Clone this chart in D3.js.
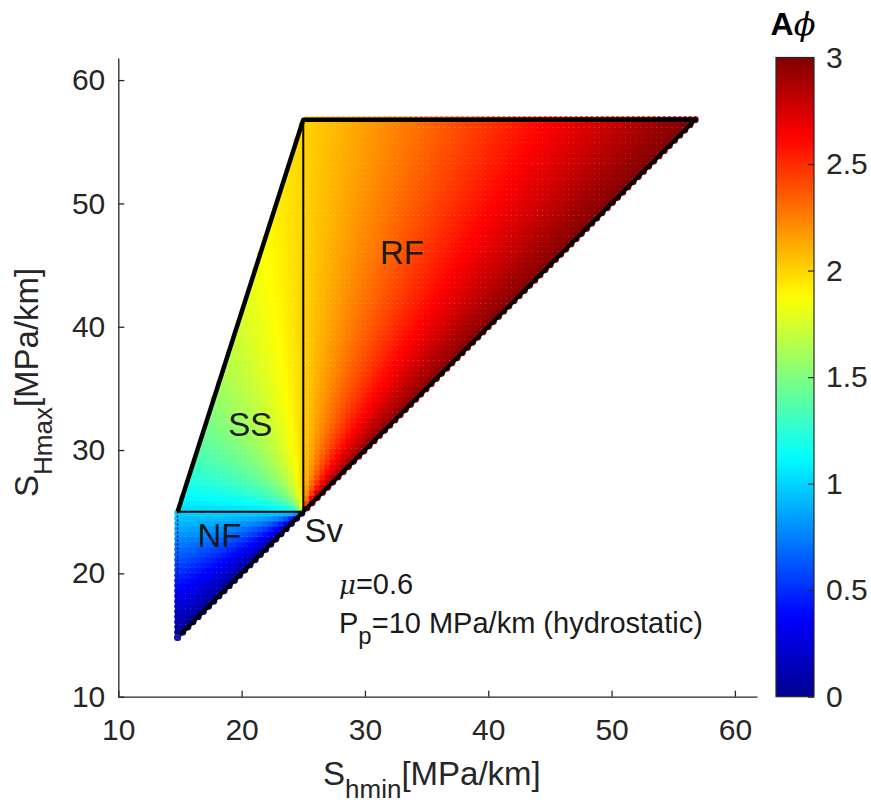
<!DOCTYPE html>
<html>
<head>
<meta charset="utf-8">
<script src="https://cdn.jsdelivr.net/npm/d3@7"></script>
<style>
  body { margin: 0; background: #fff; }
  svg { font-family: "Liberation Sans", Arial, sans-serif; }
</style>
</head>
<body>
<script>
// stress polygon inputs (MPa/km)
const SV = 25;
const PP = 10;
const MU = 0.6;
const REGIMES = ["NF", "SS", "RF"];
const REGIME_POS = [[18.2, 23.1], [20.7, 32.1], [33, 46]];
const AXIS_TICKS = [10, 20, 30, 40, 50, 60];
const CBAR_TICKS = [0, 0.5, 1, 1.5, 2, 2.5, 3];
const NOTES = ["0.6", "10 MPa/km (hydrostatic)"];

// frictional limit ratio
const K = Math.pow(Math.sqrt(MU * MU + 1) + MU, 2);
const SMIN = PP + (SV - PP) / K;
const SMAX = PP + K * (SV - PP);
const N = 100;
const step = (SMAX - SMIN) / N;

// A-phi for each stress state on the grid
const cells = [];
for (let i = 0; i <= N; i++) {
  const sh = SMIN + i * step;
  for (let j = i; j <= N; j++) {
    const sH = SMIN + j * step;
    if (sH - PP > K * (sh - PP) + 1e-9) continue;
    let a;
    if (sH <= SV) a = (sH - sh) / (SV - sh || 1);
    else if (sh >= SV) a = 2 + (sh - SV) / (sH - SV || 1);
    else a = 2 - (SV - sh) / (sH - sh);
    cells.push({ sh, sH, a });
  }
}

const jet = d3.scaleLinear()
  .domain([0, 0.125, 0.375, 0.625, 0.875, 1].map(d => d * 3))
  .range(["#00008f", "#0000ff", "#00ffff", "#ffff00", "#ff0000", "#800000"])
  .clamp(true);

const width = 871, height = 807;
const svg = d3.select("body").append("svg")
  .attr("width", width)
  .attr("height", height);

const x = d3.scaleLinear().domain([10, SMAX + 5]).range([118.3, 757]);
const y = d3.scaleLinear().domain([10, SMAX + 5]).range([696.7, 58]);

const r = Math.abs(x(step) - x(0)) * 0.65;

svg.append("g")
  .selectAll("circle")
  .data(cells)
  .enter()
  .append("circle")
  .attr("cx", d => x(d.sh))
  .attr("cy", d => y(d.sH))
  .attr("r", r)
  .attr("fill", d => jet(d.a));

// region outlines
const line = d3.line().x(d => x(d[0])).y(d => y(d[1]));
svg.append("path")
  .attr("d", line([[SMIN, SMIN], [SMIN, SV]]))
  .attr("stroke", "#101070").attr("stroke-width", 1.5).attr("fill", "none")
  .attr("stroke-dasharray", "2,2");
svg.append("path")
  .attr("d", line([[SMIN, SV], [SV, SV], [SV, SMAX]]))
  .attr("stroke", "#000").attr("stroke-width", 2).attr("fill", "none");
svg.append("path")
  .attr("d", line([[SMIN, SV], [SV, SMAX], [SMAX, SMAX]]))
  .attr("stroke", "#000").attr("stroke-width", 4.5).attr("fill", "none")
  .attr("stroke-linejoin", "round");
svg.append("path")
  .attr("d", line([[SMIN, SMIN], [SMAX, SMAX]]))
  .attr("stroke", "#000").attr("stroke-width", 4).attr("fill", "none")
  .attr("stroke-linecap", "round");
svg.append("circle")
  .attr("cx", x(SMIN)).attr("cy", y(SMIN)).attr("r", 3.5).attr("fill", "#1a1aa0");

// axes
const xAxis = d3.axisBottom(x).tickValues(AXIS_TICKS).tickSize(-6).tickSizeOuter(0).tickPadding(22);
const yAxis = d3.axisLeft(y).tickValues(AXIS_TICKS).tickSize(-6).tickSizeOuter(0).tickPadding(13);

const gx = svg.append("g").attr("transform", `translate(0,${y(10)})`).call(xAxis);
const gy = svg.append("g").attr("transform", `translate(${x(10)},0)`).call(yAxis);
[gx, gy].forEach(g => {
  g.selectAll("path, line").attr("stroke", "#262626").attr("stroke-width", 1.3);
  g.selectAll("text").attr("font-size", 30).attr("fill", "#262626").attr("font-family", "Liberation Sans, Arial, sans-serif");
});

// region labels
svg.append("g")
  .selectAll("text")
  .data(REGIMES)
  .enter()
  .append("text")
  .attr("x", (d, i) => x(REGIME_POS[i][0]))
  .attr("y", (d, i) => y(REGIME_POS[i][1]))
  .attr("text-anchor", "middle")
  .attr("dominant-baseline", "central")
  .attr("font-size", 33)
  .attr("fill", "#1a1a1a")
  .text(d => d);

svg.append("text")
  .attr("x", x(25.1)).attr("y", y(23.5))
  .attr("dominant-baseline", "central")
  .attr("font-size", 33).attr("fill", "#1a1a1a")
  .text("Sv");

const note1 = svg.append("text").attr("x", 339).attr("y", 594).attr("font-size", 29).attr("fill", "#1a1a1a");
note1.append("tspan").attr("font-family", "DejaVu Serif, serif").attr("font-style", "italic").attr("font-size", 26).text("μ");
note1.append("tspan").text("=" + NOTES[0]);

const note2 = svg.append("text").attr("x", 339).attr("y", 633).attr("font-size", 29).attr("fill", "#1a1a1a");
note2.append("tspan").text("P");
note2.append("tspan").attr("font-size", 24).attr("dy", 11).text("p");
note2.append("tspan").attr("dy", -11).text("=" + NOTES[1]);

// axis titles
const xt = svg.append("text")
  .attr("x", 323).attr("y", 785)
  .attr("font-size", 33).attr("fill", "#262626");
xt.append("tspan").text("S");
xt.append("tspan").attr("font-size", 26).attr("dy", 13).text("hmin");
xt.append("tspan").attr("dy", -13).text("[MPa/km]");

const yt = svg.append("text")
  .attr("transform", "translate(38,497) rotate(-90)")
  .attr("font-size", 33).attr("fill", "#262626");
yt.append("tspan").text("S");
yt.append("tspan").attr("font-size", 26).attr("dy", 14).text("Hmax");
yt.append("tspan").attr("dy", -14).text("[MPa/km]");

// colorbar
const cb = { x0: 776, x1: 814, y0: 57.5, y1: 696.7 };
const cScale = d3.scaleLinear().domain([0, 3]).range([cb.y1, cb.y0]);
const grad = svg.append("defs").append("linearGradient")
  .attr("id", "jetgrad").attr("x1", 0).attr("y1", 1).attr("x2", 0).attr("y2", 0);
d3.range(0, 3.0001, 0.05).forEach(v => {
  grad.append("stop").attr("offset", v / 3).attr("stop-color", jet(v));
});
svg.append("rect")
  .attr("x", cb.x0).attr("y", cb.y0)
  .attr("width", cb.x1 - cb.x0).attr("height", cb.y1 - cb.y0)
  .attr("fill", "url(#jetgrad)")
  .attr("stroke", "#262626").attr("stroke-width", 1.2);

const cAxis = d3.axisRight(cScale).tickValues(CBAR_TICKS).tickSize(-6).tickSizeOuter(0).tickPadding(12)
  .tickFormat(d3.format("~g"));
const gc = svg.append("g").attr("transform", `translate(${cb.x1},0)`).call(cAxis);
gc.select(".domain").remove();
gc.selectAll("line").attr("stroke", "#262626").attr("stroke-width", 1.2);
gc.selectAll("text").attr("font-size", 30).attr("fill", "#262626").attr("font-family", "Liberation Sans, Arial, sans-serif");

const ct = svg.append("text").attr("x", 793).attr("y", 35).attr("text-anchor", "middle").attr("font-size", 32).attr("fill", "#000");
ct.append("tspan").attr("font-weight", "bold").text("A");
ct.append("tspan").attr("font-family", "DejaVu Serif, serif").attr("font-style", "italic").text("ϕ");
</script>
</body>
</html>
